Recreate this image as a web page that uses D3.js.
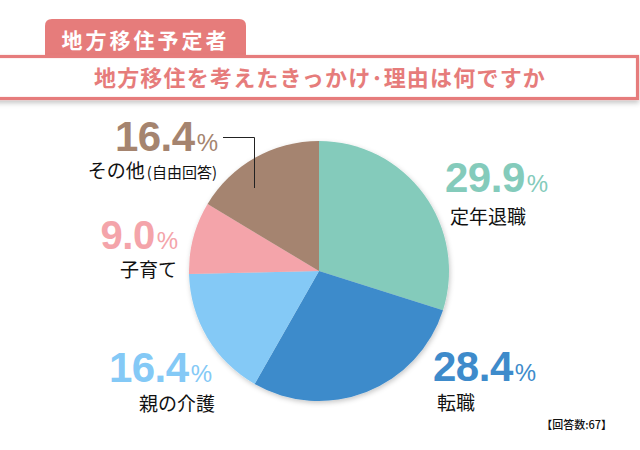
<!DOCTYPE html>
<html><head><meta charset="utf-8">
<script src="https://cdn.jsdelivr.net/npm/d3@7"></script>
<style>
html,body{margin:0;padding:0;background:#fff;}
svg{display:block;}
</style></head>
<body>
<svg id="chart" width="640" height="450"></svg>
<script>
// ---- data ----
const categories = ["定年退職", "転職", "親の介護", "子育て", "その他(自由回答)"];
const values = [29.9, 28.4, 16.4, 9.0, 16.4];
const colors = ["#84CBBB", "#3E8BCB", "#84C9F6", "#F4A4AA", "#A5846F"];
const tabTitle = "地方移住予定者";
const mainTitle = "地方移住を考えたきっかけ･理由は何ですか";
const note = "【回答数:67】";

// ---- layout (positions of labels, not data) ----
const labelLayout = [
  {x: 445, y: 192, anchor: "start", lx: 450, ly: 224, size: 42},
  {x: 433, y: 381, anchor: "start", lx: 437, ly: 410, size: 42},
  {x: 212, y: 382, anchor: "end", lx: 215, ly: 411, size: 42},
  {x: 178, y: 249, anchor: "end", lx: 177, ly: 277, size: 40},
  {x: 218, y: 151, anchor: "end", lx: 217, ly: 178, size: 42}
];

const svg = d3.select("#chart");
const pink = "#E67C7B";
const jp = "'Noto Sans CJK JP','Noto Sans',sans-serif";
const num = "'Liberation Sans',Arial,sans-serif";

const defs = svg.append("defs");
const f1 = defs.append("filter").attr("id","bandShadow").attr("x","-5%").attr("y","-20%").attr("width","110%").attr("height","160%");
f1.append("feDropShadow").attr("dx",0).attr("dy",3).attr("stdDeviation",2.5).attr("flood-color","#000").attr("flood-opacity",0.22);
const f2 = defs.append("filter").attr("id","pieShadow").attr("x","-10%").attr("y","-10%").attr("width","125%").attr("height","125%");
f2.append("feDropShadow").attr("dx",1).attr("dy",2).attr("stdDeviation",2.5).attr("flood-color","#000").attr("flood-opacity",0.22);

// tab
const tabX = 45, tabY = 19, tabW = 201, tabH = 42, r = 7;
svg.append("path")
  .attr("d", `M${tabX},${tabY+tabH} V${tabY+r} Q${tabX},${tabY} ${tabX+r},${tabY} H${tabX+tabW-r} Q${tabX+tabW},${tabY} ${tabX+tabW},${tabY+r} V${tabY+tabH} Z`)
  .attr("fill", pink);
svg.append("text").attr("x", tabX + tabW/2).attr("y", 48)
  .attr("text-anchor","middle").attr("fill","#fff")
  .attr("font-family", jp).attr("font-weight", 700).attr("font-size", 21)
  .attr("letter-spacing", 3).text(tabTitle);

// band
svg.append("rect").attr("x", -5).attr("y", 56.5).attr("width", 642.5).attr("height", 42)
  .attr("fill","#fff").attr("stroke", pink).attr("stroke-width", 3.2)
  .attr("filter","url(#bandShadow)");
svg.append("text").attr("x", 320).attr("y", 86)
  .attr("text-anchor","middle").attr("fill", pink)
  .attr("font-family", jp).attr("font-weight", 700).attr("font-size", 22)
  .attr("letter-spacing", 1.2).text(mainTitle);

// pie
const cx = 319, cy = 271, radius = 130;
const pie = d3.pie().sort(null).value(d => d.v);
const arc = d3.arc().innerRadius(0).outerRadius(radius);
const data = categories.map((c,i) => ({c, v: values[i], col: colors[i]}));
const g = svg.append("g").attr("transform", `translate(${cx},${cy})`).attr("filter","url(#pieShadow)");
g.selectAll("path").data(pie(data)).join("path")
  .attr("d", arc).attr("fill", d => d.data.col);

// leader line for その他
svg.append("polyline").attr("points", "223,137.5 254.5,137.5 254.5,188")
  .attr("fill","none").attr("stroke","#222").attr("stroke-width",1);

// labels
data.forEach((d,i) => {
  const L = labelLayout[i];
  const t = svg.append("text").attr("x", L.x).attr("y", L.y)
    .attr("text-anchor", L.anchor).attr("fill", d.col);
  t.append("tspan").attr("font-family", num).attr("font-weight", 700)
    .attr("font-size", L.size).attr("letter-spacing", -0.5).text(d.v.toFixed(1));
  t.append("tspan").attr("font-family", num).attr("font-weight", 400)
    .attr("font-size", 24).attr("dx", 2).text("%");
  const lab = svg.append("text").attr("x", L.lx).attr("y", L.ly)
    .attr("text-anchor", L.anchor).attr("fill", "#111")
    .attr("font-family", jp).attr("font-weight", 400).attr("font-size", 19);
  const m = d.c.match(/^(.*?)\((.*)\)$/);
  if (m) {
    lab.append("tspan").text(m[1]);
    lab.append("tspan").attr("font-size", 15).attr("dx", 2).text("(" + m[2] + ")");
  } else {
    lab.text(d.c);
  }
});

// note
svg.append("text").attr("x", 612).attr("y", 429).attr("text-anchor","end")
  .attr("fill","#111").attr("font-family", jp).attr("font-weight", 500)
  .attr("font-size", 11).text(note);
</script>
</body></html>
